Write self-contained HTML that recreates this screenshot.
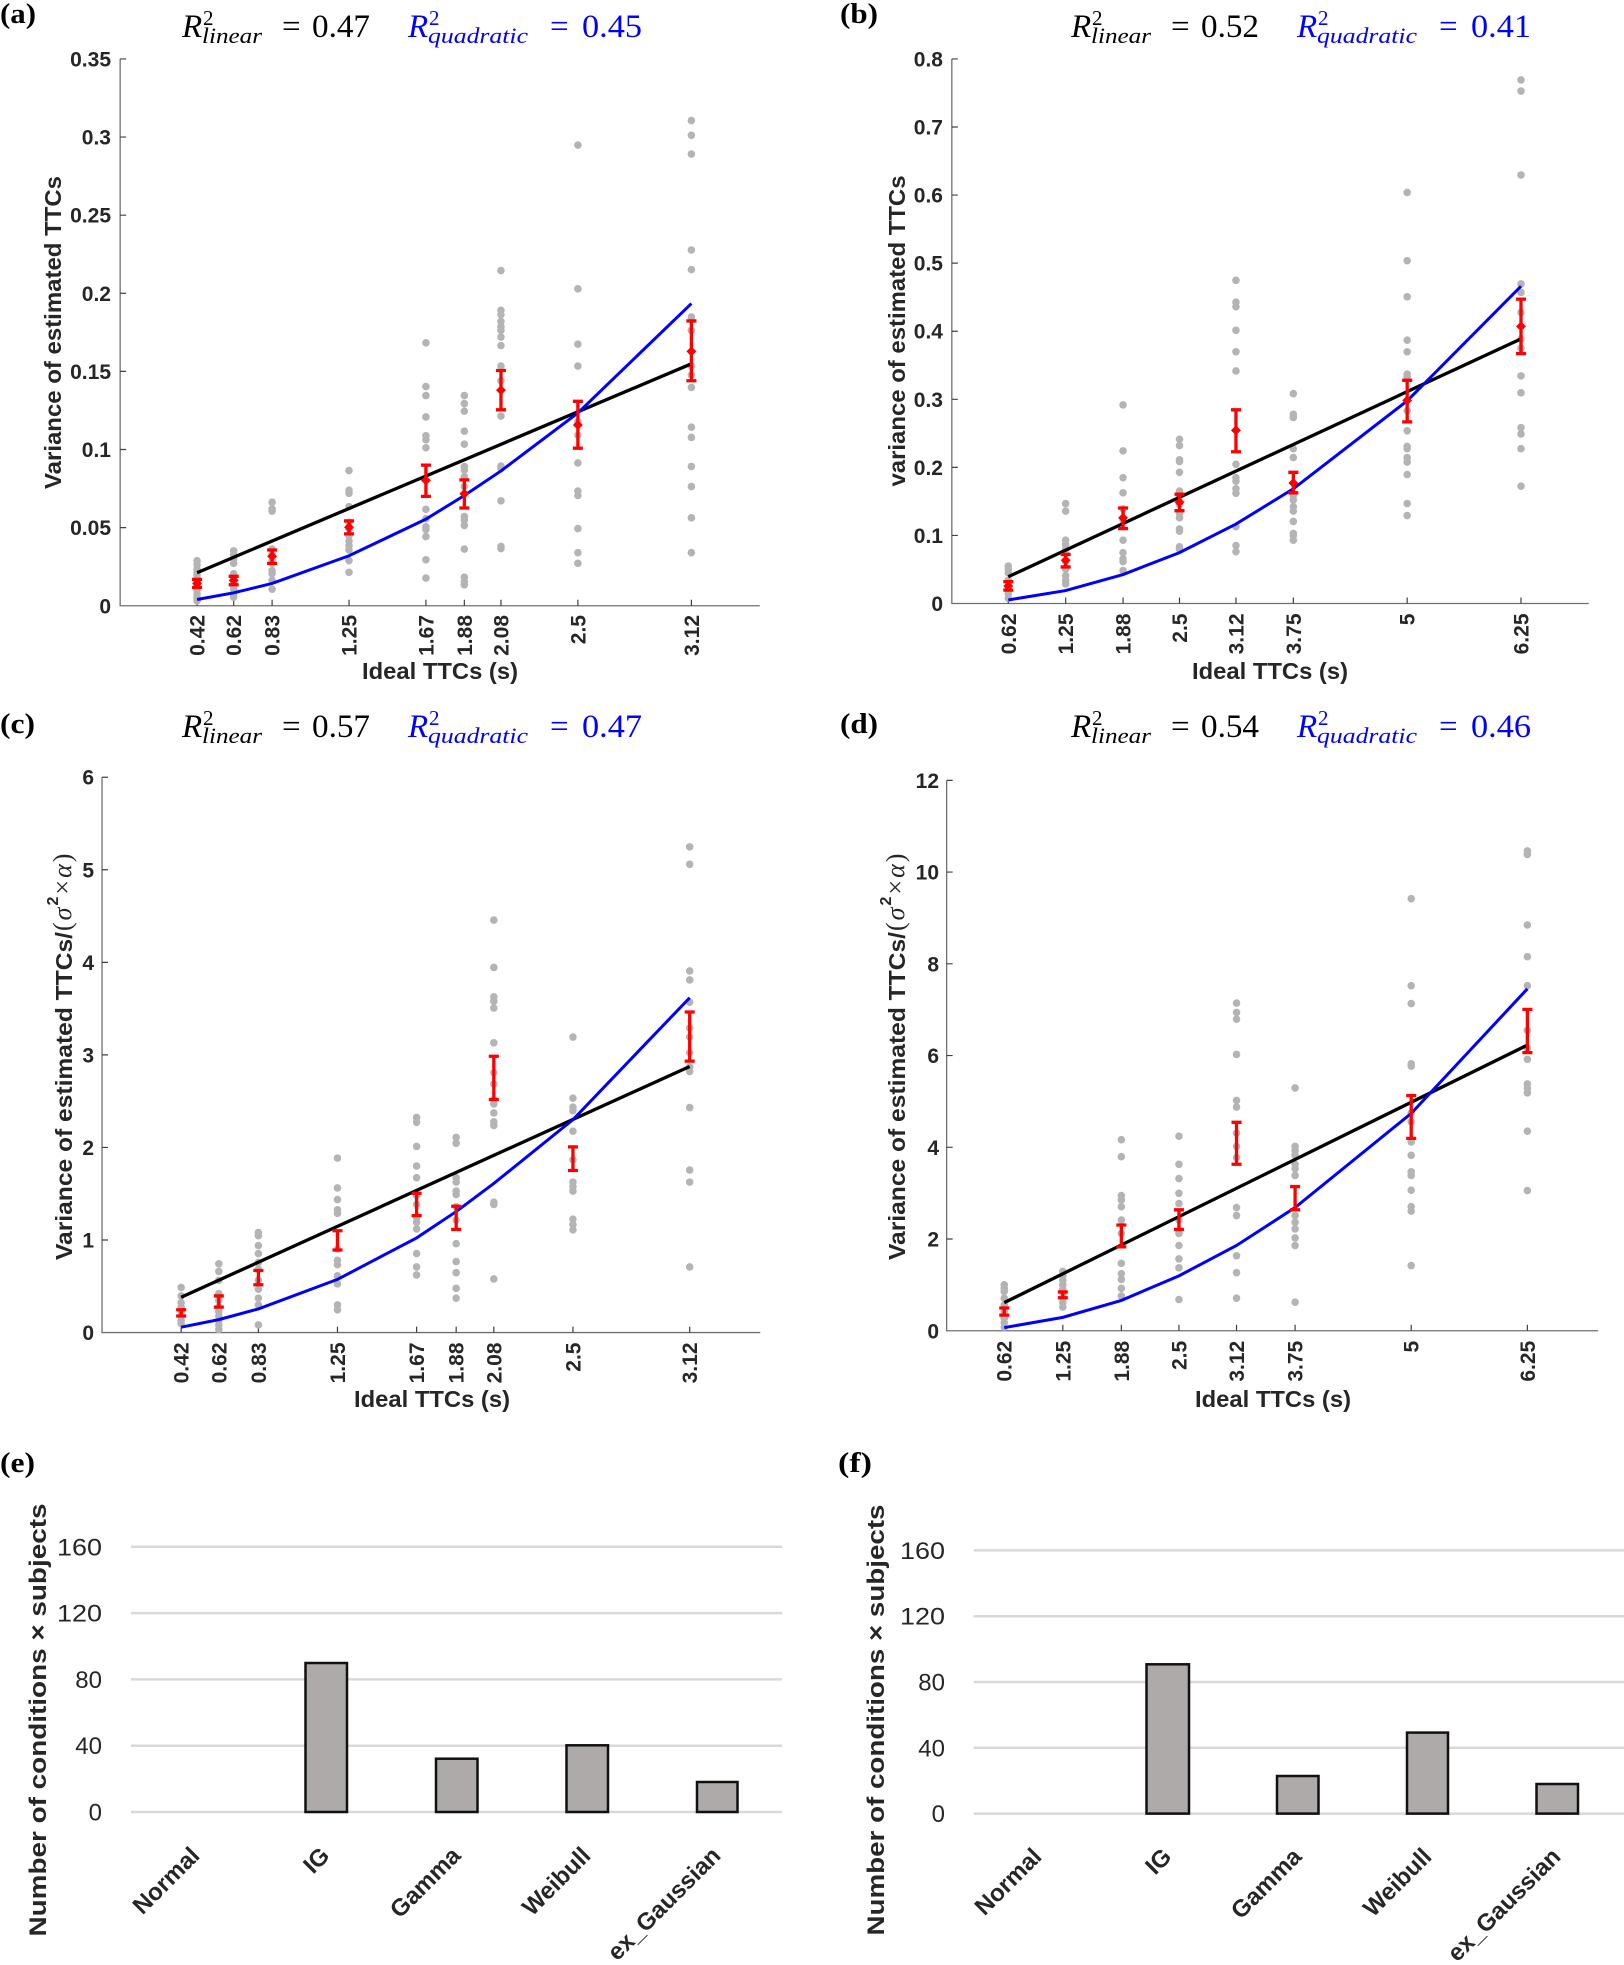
<!DOCTYPE html>
<html><head><meta charset="utf-8"><style>
html,body{margin:0;padding:0;background:#fff;}
svg{display:block;}
.tk{font-family:"Liberation Sans",Arial,sans-serif;font-weight:bold;font-size:21px;fill:#262626;}
.lb{font-family:"Liberation Sans",Arial,sans-serif;font-weight:bold;font-size:23px;fill:#262626;}
.sf{font-family:"Liberation Serif","Times New Roman",serif;}
.pl{font-family:"Liberation Serif","Times New Roman",serif;font-weight:bold;font-size:28px;fill:#000;}
.bt{font-family:"Liberation Sans",Arial,sans-serif;font-size:24px;fill:#262626;}
.bc{font-family:"Liberation Sans",Arial,sans-serif;font-weight:bold;font-size:24px;fill:#262626;}
.ax{fill:none;stroke:#707070;stroke-width:1.3;}
.tkl{fill:none;stroke:#404040;stroke-width:1.2;}
.bl{fill:none;stroke:#000;stroke-width:3.3;}
.bu{fill:none;stroke:#0000ff;stroke-width:3;}
.er{fill:none;stroke:#ff0000;stroke-width:3.3;}
</style></head><body>
<svg width="1624" height="1965" viewBox="0 0 1624 1965" xmlns="http://www.w3.org/2000/svg">
<rect width="1624" height="1965" fill="#fff"/>
<defs>
<ellipse id="d" cx="0" cy="0" rx="7.3" ry="8.5" fill="#b4b4b4"/>
<polygon id="dm" points="0,-11 9.6,0 0,11 -9.6,0" fill="#ff0000"/>
</defs>

<!-- ================= PANEL LABELS ================= -->
<text class="pl" x="0" y="23" textLength="36" lengthAdjust="spacingAndGlyphs">(a)</text>
<text class="pl" x="840" y="23" textLength="38" lengthAdjust="spacingAndGlyphs">(b)</text>
<text class="pl" x="0" y="733" textLength="35" lengthAdjust="spacingAndGlyphs">(c)</text>
<text class="pl" x="840" y="733" textLength="38" lengthAdjust="spacingAndGlyphs">(d)</text>
<text class="pl" x="0" y="1472" textLength="35" lengthAdjust="spacingAndGlyphs">(e)</text>
<text class="pl" x="838" y="1472" textLength="34" lengthAdjust="spacingAndGlyphs">(f)</text>

<!-- ================= TITLES ================= -->
<g class="sf">
 <g>
  <text x="182" y="37" font-size="33" font-style="italic">R</text>
  <text x="203" y="25" font-size="21">2</text>
  <text x="202" y="43" font-size="22" font-style="italic" textLength="60" lengthAdjust="spacingAndGlyphs">linear</text>
  <text x="282" y="37" font-size="33">=</text>
  <text x="312" y="37" font-size="33" textLength="58" lengthAdjust="spacingAndGlyphs">0.47</text>
  <g fill="#0000ff">
   <text x="408" y="37" font-size="33" font-style="italic">R</text>
   <text x="429" y="25" font-size="21">2</text>
   <text x="428" y="43" font-size="22" font-style="italic" textLength="100" lengthAdjust="spacingAndGlyphs">quadratic</text>
   <text x="550" y="37" font-size="33">=</text>
   <text x="582" y="37" font-size="33" textLength="60" lengthAdjust="spacingAndGlyphs">0.45</text>
  </g>
 </g>
 <g transform="translate(889 0)">
  <text x="182" y="37" font-size="33" font-style="italic">R</text>
  <text x="203" y="25" font-size="21">2</text>
  <text x="202" y="43" font-size="22" font-style="italic" textLength="60" lengthAdjust="spacingAndGlyphs">linear</text>
  <text x="282" y="37" font-size="33">=</text>
  <text x="312" y="37" font-size="33" textLength="58" lengthAdjust="spacingAndGlyphs">0.52</text>
  <g fill="#0000ff">
   <text x="408" y="37" font-size="33" font-style="italic">R</text>
   <text x="429" y="25" font-size="21">2</text>
   <text x="428" y="43" font-size="22" font-style="italic" textLength="100" lengthAdjust="spacingAndGlyphs">quadratic</text>
   <text x="550" y="37" font-size="33">=</text>
   <text x="582" y="37" font-size="33" textLength="60" lengthAdjust="spacingAndGlyphs">0.41</text>
  </g>
 </g>
 <g transform="translate(0 700)">
  <text x="182" y="37" font-size="33" font-style="italic">R</text>
  <text x="203" y="25" font-size="21">2</text>
  <text x="202" y="43" font-size="22" font-style="italic" textLength="60" lengthAdjust="spacingAndGlyphs">linear</text>
  <text x="282" y="37" font-size="33">=</text>
  <text x="312" y="37" font-size="33" textLength="58" lengthAdjust="spacingAndGlyphs">0.57</text>
  <g fill="#0000ff">
   <text x="408" y="37" font-size="33" font-style="italic">R</text>
   <text x="429" y="25" font-size="21">2</text>
   <text x="428" y="43" font-size="22" font-style="italic" textLength="100" lengthAdjust="spacingAndGlyphs">quadratic</text>
   <text x="550" y="37" font-size="33">=</text>
   <text x="582" y="37" font-size="33" textLength="60" lengthAdjust="spacingAndGlyphs">0.47</text>
  </g>
 </g>
 <g transform="translate(889 700)">
  <text x="182" y="37" font-size="33" font-style="italic">R</text>
  <text x="203" y="25" font-size="21">2</text>
  <text x="202" y="43" font-size="22" font-style="italic" textLength="60" lengthAdjust="spacingAndGlyphs">linear</text>
  <text x="282" y="37" font-size="33">=</text>
  <text x="312" y="37" font-size="33" textLength="58" lengthAdjust="spacingAndGlyphs">0.54</text>
  <g fill="#0000ff">
   <text x="408" y="37" font-size="33" font-style="italic">R</text>
   <text x="429" y="25" font-size="21">2</text>
   <text x="428" y="43" font-size="22" font-style="italic" textLength="100" lengthAdjust="spacingAndGlyphs">quadratic</text>
   <text x="550" y="37" font-size="33">=</text>
   <text x="582" y="37" font-size="33" textLength="60" lengthAdjust="spacingAndGlyphs">0.46</text>
  </g>
 </g>
</g>

<!-- ================= PANEL A ================= -->
<g transform="scale(0.5179 0.4464)">
 <path class="ax" vector-effect="non-scaling-stroke" d="M232,132V1357H1467"/>
 <path class="tkl" vector-effect="non-scaling-stroke" d="M232,132h11.6M232,307h11.6M232,482h11.6M232,657h11.6M232,832h11.6M232,1007h11.6M232,1182h11.6
 M380.5,1357v-13.4M451.2,1357v-13.4M525.4,1357v-13.4M673.9,1357v-13.4M822.4,1357v-13.4M896.6,1357v-13.4M967.3,1357v-13.4M1115.8,1357v-13.4M1335,1357v-13.4"/>
 <g transform="translate(380.5 0)"><use href="#d" y="1256"/><use href="#d" y="1265"/><use href="#d" y="1275"/><use href="#d" y="1283"/><use href="#d" y="1290"/><use href="#d" y="1300"/><use href="#d" y="1315"/><use href="#d" y="1322"/><use href="#d" y="1330"/><use href="#d" y="1338"/><use href="#d" y="1346"/></g>
 <g transform="translate(451.2 0)"><use href="#d" y="1234"/><use href="#d" y="1243"/><use href="#d" y="1252"/><use href="#d" y="1262"/><use href="#d" y="1285"/><use href="#d" y="1293"/><use href="#d" y="1303"/><use href="#d" y="1312"/><use href="#d" y="1320"/><use href="#d" y="1330"/><use href="#d" y="1338"/></g>
 <g transform="translate(525.4 0)"><use href="#d" y="1125"/><use href="#d" y="1140"/><use href="#d" y="1145"/><use href="#d" y="1230"/><use href="#d" y="1240"/><use href="#d" y="1255"/><use href="#d" y="1262"/><use href="#d" y="1278"/><use href="#d" y="1285"/><use href="#d" y="1300"/><use href="#d" y="1320"/></g>
 <g transform="translate(673.9 0)"><use href="#d" y="1054"/><use href="#d" y="1098"/><use href="#d" y="1105"/><use href="#d" y="1135"/><use href="#d" y="1170"/><use href="#d" y="1185"/><use href="#d" y="1200"/><use href="#d" y="1212"/><use href="#d" y="1222"/><use href="#d" y="1232"/><use href="#d" y="1256"/><use href="#d" y="1282"/></g>
 <g transform="translate(822.4 0)"><use href="#d" y="768"/><use href="#d" y="866"/><use href="#d" y="886"/><use href="#d" y="934"/><use href="#d" y="976"/><use href="#d" y="985"/><use href="#d" y="1003"/><use href="#d" y="1141"/><use href="#d" y="1162"/><use href="#d" y="1180"/><use href="#d" y="1186"/><use href="#d" y="1202"/><use href="#d" y="1254"/><use href="#d" y="1295"/></g>
 <g transform="translate(896.6 0)"><use href="#d" y="886"/><use href="#d" y="904"/><use href="#d" y="921"/><use href="#d" y="966"/><use href="#d" y="995"/><use href="#d" y="1045"/><use href="#d" y="1053"/><use href="#d" y="1068"/><use href="#d" y="1090"/><use href="#d" y="1157"/><use href="#d" y="1165"/><use href="#d" y="1177"/><use href="#d" y="1230"/><use href="#d" y="1293"/><use href="#d" y="1303"/><use href="#d" y="1310"/></g>
 <g transform="translate(967.3 0)"><use href="#d" y="606"/><use href="#d" y="695"/><use href="#d" y="705"/><use href="#d" y="720"/><use href="#d" y="732"/><use href="#d" y="740"/><use href="#d" y="755"/><use href="#d" y="774"/><use href="#d" y="820"/><use href="#d" y="853"/><use href="#d" y="932"/><use href="#d" y="1044"/><use href="#d" y="1050"/><use href="#d" y="1122"/><use href="#d" y="1224"/><use href="#d" y="1229"/></g>
 <g transform="translate(1115.8 0)"><use href="#d" y="325"/><use href="#d" y="647"/><use href="#d" y="771"/><use href="#d" y="820"/><use href="#d" y="945"/><use href="#d" y="975"/><use href="#d" y="1037"/><use href="#d" y="1100"/><use href="#d" y="1110"/><use href="#d" y="1184"/><use href="#d" y="1238"/><use href="#d" y="1262"/></g>
 <g transform="translate(1335 0)"><use href="#d" y="270"/><use href="#d" y="303"/><use href="#d" y="345"/><use href="#d" y="560"/><use href="#d" y="604"/><use href="#d" y="710"/><use href="#d" y="740"/><use href="#d" y="820"/><use href="#d" y="840"/><use href="#d" y="868"/><use href="#d" y="957"/><use href="#d" y="980"/><use href="#d" y="1045"/><use href="#d" y="1090"/><use href="#d" y="1160"/><use href="#d" y="1238"/></g>
 <path class="bl" vector-effect="non-scaling-stroke" d="M380.5,1283L1335,815"/>
 <polyline class="bu" vector-effect="non-scaling-stroke" points="380.5,1343 451.2,1328 525.4,1307 673.9,1245 822.4,1163 896.6,1110 967.3,1055 1115.8,925 1335,680"/>
 <path class="er" vector-effect="non-scaling-stroke" d="M380.5,1298V1316M370.8,1298h19.4M370.8,1316h19.4
 M451.2,1291V1310M441.5,1291h19.4M441.5,1310h19.4
 M525.4,1232V1262M515.7,1232h19.4M515.7,1262h19.4
 M673.9,1167V1196M664.2,1167h19.4M664.2,1196h19.4
 M822.4,1042V1112M812.7,1042h19.4M812.7,1112h19.4
 M896.6,1075V1138M886.9,1075h19.4M886.9,1138h19.4
 M967.3,830V918M957.6,830h19.4M957.6,918h19.4
 M1115.8,899V1004M1106.1,899h19.4M1106.1,1004h19.4
 M1335,719V853M1325.3,719h19.4M1325.3,853h19.4"/>
 <use href="#dm" x="380.5" y="1307"/><use href="#dm" x="451.2" y="1300"/><use href="#dm" x="525.4" y="1246"/><use href="#dm" x="673.9" y="1181"/><use href="#dm" x="822.4" y="1076"/><use href="#dm" x="896.6" y="1106"/><use href="#dm" x="967.3" y="874"/><use href="#dm" x="1115.8" y="952"/><use href="#dm" x="1335" y="787"/>
</g>
<g class="tk" text-anchor="end">
 <text x="111" y="66.4">0.35</text><text x="111" y="144.5">0.3</text><text x="111" y="222.7">0.25</text><text x="111" y="300.8">0.2</text><text x="111" y="378.9">0.15</text><text x="111" y="457">0.1</text><text x="111" y="535.1">0.05</text><text x="111" y="613.3">0</text>
 <text transform="translate(204.6 615) rotate(-90)">0.42</text>
 <text transform="translate(241.2 615) rotate(-90)">0.62</text>
 <text transform="translate(279.6 615) rotate(-90)">0.83</text>
 <text transform="translate(356.5 615) rotate(-90)">1.25</text>
 <text transform="translate(433.4 615) rotate(-90)">1.67</text>
 <text transform="translate(471.9 615) rotate(-90)">1.88</text>
 <text transform="translate(508.5 615) rotate(-90)">2.08</text>
 <text transform="translate(585.4 615) rotate(-90)">2.5</text>
 <text transform="translate(698.9 615) rotate(-90)">3.12</text>
</g>
<text class="lb" x="440" y="679" text-anchor="middle" textLength="156" lengthAdjust="spacingAndGlyphs">Ideal TTCs (s)</text>
<text class="lb" transform="translate(61 332.5) rotate(-90)" text-anchor="middle" textLength="313" lengthAdjust="spacingAndGlyphs">Variance of estimated TTCs</text>

<!-- ================= PANEL B ================= -->
<g transform="translate(812 0) scale(0.5179 0.4464)">
 <path class="ax" vector-effect="non-scaling-stroke" d="M270,132V1352H1500"/>
 <path class="tkl" vector-effect="non-scaling-stroke" d="M270,132h11.6M270,284.5h11.6M270,437h11.6M270,589.5h11.6M270,742h11.6M270,894.5h11.6M270,1047h11.6M270,1199.5h11.6
 M379,1352v-13.4M489.8,1352v-13.4M600.6,1352v-13.4M709.6,1352v-13.4M818.6,1352v-13.4M929.4,1352v-13.4M1149.2,1352v-13.4M1369,1352v-13.4"/>
 <g transform="translate(379 0)"><use href="#d" y="1268"/><use href="#d" y="1275"/><use href="#d" y="1283"/><use href="#d" y="1300"/><use href="#d" y="1310"/><use href="#d" y="1320"/><use href="#d" y="1330"/><use href="#d" y="1340"/></g>
 <g transform="translate(489.8 0)"><use href="#d" y="1128"/><use href="#d" y="1145"/><use href="#d" y="1210"/><use href="#d" y="1220"/><use href="#d" y="1230"/><use href="#d" y="1240"/><use href="#d" y="1258"/><use href="#d" y="1275"/><use href="#d" y="1290"/><use href="#d" y="1300"/><use href="#d" y="1308"/></g>
 <g transform="translate(600.6 0)"><use href="#d" y="907"/><use href="#d" y="1010"/><use href="#d" y="1070"/><use href="#d" y="1104"/><use href="#d" y="1140"/><use href="#d" y="1165"/><use href="#d" y="1210"/><use href="#d" y="1238"/><use href="#d" y="1252"/><use href="#d" y="1258"/><use href="#d" y="1278"/></g>
 <g transform="translate(709.6 0)"><use href="#d" y="984"/><use href="#d" y="998"/><use href="#d" y="1030"/><use href="#d" y="1034"/><use href="#d" y="1058"/><use href="#d" y="1100"/><use href="#d" y="1110"/><use href="#d" y="1130"/><use href="#d" y="1150"/><use href="#d" y="1160"/><use href="#d" y="1185"/><use href="#d" y="1190"/><use href="#d" y="1225"/><use href="#d" y="1230"/></g>
 <g transform="translate(818.6 0)"><use href="#d" y="628"/><use href="#d" y="677"/><use href="#d" y="687"/><use href="#d" y="740"/><use href="#d" y="788"/><use href="#d" y="831"/><use href="#d" y="1040"/><use href="#d" y="1070"/><use href="#d" y="1078"/><use href="#d" y="1095"/><use href="#d" y="1105"/><use href="#d" y="1180"/><use href="#d" y="1222"/><use href="#d" y="1236"/></g>
 <g transform="translate(929.4 0)"><use href="#d" y="882"/><use href="#d" y="928"/><use href="#d" y="935"/><use href="#d" y="1005"/><use href="#d" y="1025"/><use href="#d" y="1110"/><use href="#d" y="1120"/><use href="#d" y="1135"/><use href="#d" y="1145"/><use href="#d" y="1168"/><use href="#d" y="1195"/><use href="#d" y="1200"/><use href="#d" y="1210"/></g>
 <g transform="translate(1149.2 0)"><use href="#d" y="431"/><use href="#d" y="584"/><use href="#d" y="665"/><use href="#d" y="762"/><use href="#d" y="788"/><use href="#d" y="838"/><use href="#d" y="845"/><use href="#d" y="920"/><use href="#d" y="965"/><use href="#d" y="1000"/><use href="#d" y="1005"/><use href="#d" y="1025"/><use href="#d" y="1035"/><use href="#d" y="1063"/><use href="#d" y="1128"/><use href="#d" y="1155"/></g>
 <g transform="translate(1369 0)"><use href="#d" y="179"/><use href="#d" y="204"/><use href="#d" y="392"/><use href="#d" y="636"/><use href="#d" y="655"/><use href="#d" y="700"/><use href="#d" y="760"/><use href="#d" y="780"/><use href="#d" y="842"/><use href="#d" y="880"/><use href="#d" y="958"/><use href="#d" y="972"/><use href="#d" y="1005"/><use href="#d" y="1089"/></g>
 <path class="bl" vector-effect="non-scaling-stroke" d="M379,1292L1369,759"/>
 <polyline class="bu" vector-effect="non-scaling-stroke" points="379,1344 489.8,1323 600.6,1287 709.6,1238 818.6,1174 929.4,1095 1149.2,898 1369,641"/>
 <path class="er" vector-effect="non-scaling-stroke" d="M379,1303V1322M369.3,1303h19.4M369.3,1322h19.4
 M489.8,1242V1270M480.1,1242h19.4M480.1,1270h19.4
 M600.6,1138V1184M590.9,1138h19.4M590.9,1184h19.4
 M709.6,1107V1144M699.9,1107h19.4M699.9,1144h19.4
 M818.6,918V1012M808.9,918h19.4M808.9,1012h19.4
 M929.4,1058V1104M919.7,1058h19.4M919.7,1104h19.4
 M1149.2,852V945M1139.5,852h19.4M1139.5,945h19.4
 M1369,670V792M1359.3,670h19.4M1359.3,792h19.4"/>
 <use href="#dm" x="379" y="1313"/><use href="#dm" x="489.8" y="1255"/><use href="#dm" x="600.6" y="1160"/><use href="#dm" x="709.6" y="1125"/><use href="#dm" x="818.6" y="964"/><use href="#dm" x="929.4" y="1082"/><use href="#dm" x="1149.2" y="897"/><use href="#dm" x="1369" y="731"/>
</g>
<g class="tk" text-anchor="end">
 <text x="943" y="66.4">0.8</text><text x="943" y="134.5">0.7</text><text x="943" y="202.6">0.6</text><text x="943" y="270.7">0.5</text><text x="943" y="338.7">0.4</text><text x="943" y="406.8">0.3</text><text x="943" y="474.9">0.2</text><text x="943" y="543">0.1</text><text x="943" y="611">0</text>
 <text transform="translate(1015.8 613.5) rotate(-90)">0.62</text>
 <text transform="translate(1073.2 613.5) rotate(-90)">1.25</text>
 <text transform="translate(1130.5 613.5) rotate(-90)">1.88</text>
 <text transform="translate(1187 613.5) rotate(-90)">2.5</text>
 <text transform="translate(1243.5 613.5) rotate(-90)">3.12</text>
 <text transform="translate(1300.8 613.5) rotate(-90)">3.75</text>
 <text transform="translate(1414.7 613.5) rotate(-90)">5</text>
 <text transform="translate(1528.5 613.5) rotate(-90)">6.25</text>
</g>
<text class="lb" x="1270" y="679" text-anchor="middle" textLength="156" lengthAdjust="spacingAndGlyphs">Ideal TTCs (s)</text>
<text class="lb" transform="translate(905 331) rotate(-90)" text-anchor="middle" textLength="311" lengthAdjust="spacingAndGlyphs">variance of estimated TTCs</text>

<!-- ================= PANEL C ================= -->
<g transform="translate(0 700) scale(0.5179 0.4464)">
 <path class="ax" vector-effect="non-scaling-stroke" d="M197,173V1417H1468"/>
 <path class="tkl" vector-effect="non-scaling-stroke" d="M197,173h11.6M197,380.3h11.6M197,587.7h11.6M197,795h11.6M197,1002.3h11.6M197,1209.7h11.6
 M349.8,1417v-13.4M422.5,1417v-13.4M498.9,1417v-13.4M651.6,1417v-13.4M804.4,1417v-13.4M880.8,1417v-13.4M953.5,1417v-13.4M1106.3,1417v-13.4M1331.7,1417v-13.4"/>
 <g transform="translate(349.8 0)"><use href="#d" y="1316"/><use href="#d" y="1335"/><use href="#d" y="1350"/><use href="#d" y="1360"/><use href="#d" y="1370"/><use href="#d" y="1380"/><use href="#d" y="1390"/><use href="#d" y="1397"/></g>
 <g transform="translate(422.5 0)"><use href="#d" y="1263"/><use href="#d" y="1280"/><use href="#d" y="1300"/><use href="#d" y="1330"/><use href="#d" y="1345"/><use href="#d" y="1360"/><use href="#d" y="1370"/><use href="#d" y="1380"/><use href="#d" y="1390"/><use href="#d" y="1400"/><use href="#d" y="1410"/></g>
 <g transform="translate(498.9 0)"><use href="#d" y="1193"/><use href="#d" y="1200"/><use href="#d" y="1222"/><use href="#d" y="1240"/><use href="#d" y="1260"/><use href="#d" y="1275"/><use href="#d" y="1300"/><use href="#d" y="1320"/><use href="#d" y="1340"/><use href="#d" y="1355"/><use href="#d" y="1400"/></g>
 <g transform="translate(651.6 0)"><use href="#d" y="1026"/><use href="#d" y="1093"/><use href="#d" y="1119"/><use href="#d" y="1142"/><use href="#d" y="1150"/><use href="#d" y="1230"/><use href="#d" y="1255"/><use href="#d" y="1265"/><use href="#d" y="1290"/><use href="#d" y="1308"/><use href="#d" y="1355"/><use href="#d" y="1366"/></g>
 <g transform="translate(804.4 0)"><use href="#d" y="935"/><use href="#d" y="946"/><use href="#d" y="1000"/><use href="#d" y="1044"/><use href="#d" y="1070"/><use href="#d" y="1110"/><use href="#d" y="1130"/><use href="#d" y="1160"/><use href="#d" y="1170"/><use href="#d" y="1185"/><use href="#d" y="1240"/><use href="#d" y="1270"/><use href="#d" y="1288"/></g>
 <g transform="translate(880.8 0)"><use href="#d" y="980"/><use href="#d" y="993"/><use href="#d" y="1070"/><use href="#d" y="1080"/><use href="#d" y="1100"/><use href="#d" y="1108"/><use href="#d" y="1135"/><use href="#d" y="1165"/><use href="#d" y="1218"/><use href="#d" y="1258"/><use href="#d" y="1283"/><use href="#d" y="1318"/><use href="#d" y="1340"/></g>
 <g transform="translate(953.5 0)"><use href="#d" y="493"/><use href="#d" y="599"/><use href="#d" y="665"/><use href="#d" y="675"/><use href="#d" y="690"/><use href="#d" y="768"/><use href="#d" y="835"/><use href="#d" y="860"/><use href="#d" y="895"/><use href="#d" y="905"/><use href="#d" y="925"/><use href="#d" y="945"/><use href="#d" y="953"/><use href="#d" y="1125"/><use href="#d" y="1130"/><use href="#d" y="1297"/></g>
 <g transform="translate(1106.3 0)"><use href="#d" y="755"/><use href="#d" y="892"/><use href="#d" y="912"/><use href="#d" y="920"/><use href="#d" y="966"/><use href="#d" y="1030"/><use href="#d" y="1080"/><use href="#d" y="1090"/><use href="#d" y="1100"/><use href="#d" y="1163"/><use href="#d" y="1175"/><use href="#d" y="1187"/></g>
 <g transform="translate(1331.7 0)"><use href="#d" y="329"/><use href="#d" y="368"/><use href="#d" y="607"/><use href="#d" y="627"/><use href="#d" y="677"/><use href="#d" y="735"/><use href="#d" y="755"/><use href="#d" y="790"/><use href="#d" y="822"/><use href="#d" y="832"/><use href="#d" y="913"/><use href="#d" y="1053"/><use href="#d" y="1080"/><use href="#d" y="1270"/></g>
 <path class="bl" vector-effect="non-scaling-stroke" d="M349.8,1338L1331.7,821"/>
 <polyline class="bu" vector-effect="non-scaling-stroke" points="349.8,1405 422.5,1388 498.9,1364 651.6,1298 804.4,1205 880.8,1146 953.5,1083 1106.3,940 1331.7,667"/>
 <path class="er" vector-effect="non-scaling-stroke" d="M349.8,1366V1380M340.1,1366h19.4M340.1,1380h19.4
 M422.5,1335V1360M412.8,1335h19.4M412.8,1360h19.4
 M498.9,1278V1310M489.2,1278h19.4M489.2,1310h19.4
 M651.6,1189V1232M641.9,1189h19.4M641.9,1232h19.4
 M804.4,1105V1155M794.7,1105h19.4M794.7,1155h19.4
 M880.8,1134V1186M871.1,1134h19.4M871.1,1186h19.4
 M953.5,798V895M943.8,798h19.4M943.8,895h19.4
 M1106.3,1001V1054M1096.6,1001h19.4M1096.6,1054h19.4
 M1331.7,699V809M1322,699h19.4M1322,809h19.4"/>
</g>
<g class="tk" text-anchor="end">
 <text x="94" y="784.7">6</text><text x="94" y="877.3">5</text><text x="94" y="969.9">4</text><text x="94" y="1062.4">3</text><text x="94" y="1155">2</text><text x="94" y="1247.5">1</text><text x="94" y="1340">0</text>
 <text transform="translate(188.7 1342.5) rotate(-90)">0.42</text>
 <text transform="translate(226.3 1342.5) rotate(-90)">0.62</text>
 <text transform="translate(265.9 1342.5) rotate(-90)">0.83</text>
 <text transform="translate(345 1342.5) rotate(-90)">1.25</text>
 <text transform="translate(424.1 1342.5) rotate(-90)">1.67</text>
 <text transform="translate(463.7 1342.5) rotate(-90)">1.88</text>
 <text transform="translate(501.3 1342.5) rotate(-90)">2.08</text>
 <text transform="translate(580.5 1342.5) rotate(-90)">2.5</text>
 <text transform="translate(697.2 1342.5) rotate(-90)">3.12</text>
</g>
<text class="lb" x="432" y="1407" text-anchor="middle" textLength="156" lengthAdjust="spacingAndGlyphs">Ideal TTCs (s)</text>
<text class="lb" transform="translate(72 1260) rotate(-90)" textLength="328" lengthAdjust="spacingAndGlyphs">Variance of estimated TTCs/</text>
<text transform="translate(71 931) rotate(-90)" class="sf" font-size="26" fill="#262626" letter-spacing="2"><tspan>(</tspan><tspan font-style="italic">σ</tspan><tspan font-family="Liberation Sans, Arial, sans-serif" font-weight="bold" font-size="16" dy="-13">2</tspan><tspan dy="13">×</tspan><tspan font-style="italic">α</tspan><tspan>)</tspan></text>

<!-- ================= PANEL D ================= -->
<g transform="translate(812 700) scale(0.5179 0.4464)">
 <path class="ax" vector-effect="non-scaling-stroke" d="M260,180V1413H1518"/>
 <path class="tkl" vector-effect="non-scaling-stroke" d="M260,180h11.6M260,385.5h11.6M260,591h11.6M260,796.5h11.6M260,1002h11.6M260,1207.5h11.6
 M371.2,1413v-13.4M484.3,1413v-13.4M597.3,1413v-13.4M708.5,1413v-13.4M819.7,1413v-13.4M932.8,1413v-13.4M1157,1413v-13.4M1381.3,1413v-13.4"/>
 <g transform="translate(371.2 0)"><use href="#d" y="1310"/><use href="#d" y="1318"/><use href="#d" y="1325"/><use href="#d" y="1340"/><use href="#d" y="1355"/><use href="#d" y="1370"/><use href="#d" y="1385"/><use href="#d" y="1395"/><use href="#d" y="1405"/></g>
 <g transform="translate(484.3 0)"><use href="#d" y="1280"/><use href="#d" y="1290"/><use href="#d" y="1300"/><use href="#d" y="1310"/><use href="#d" y="1320"/><use href="#d" y="1330"/><use href="#d" y="1340"/><use href="#d" y="1350"/><use href="#d" y="1360"/></g>
 <g transform="translate(597.3 0)"><use href="#d" y="985"/><use href="#d" y="1023"/><use href="#d" y="1110"/><use href="#d" y="1120"/><use href="#d" y="1135"/><use href="#d" y="1165"/><use href="#d" y="1195"/><use href="#d" y="1262"/><use href="#d" y="1285"/><use href="#d" y="1298"/><use href="#d" y="1318"/><use href="#d" y="1335"/></g>
 <g transform="translate(708.5 0)"><use href="#d" y="977"/><use href="#d" y="1040"/><use href="#d" y="1072"/><use href="#d" y="1105"/><use href="#d" y="1128"/><use href="#d" y="1165"/><use href="#d" y="1195"/><use href="#d" y="1222"/><use href="#d" y="1252"/><use href="#d" y="1272"/><use href="#d" y="1343"/></g>
 <g transform="translate(819.7 0)"><use href="#d" y="679"/><use href="#d" y="700"/><use href="#d" y="715"/><use href="#d" y="794"/><use href="#d" y="897"/><use href="#d" y="912"/><use href="#d" y="970"/><use href="#d" y="1000"/><use href="#d" y="1025"/><use href="#d" y="1137"/><use href="#d" y="1155"/><use href="#d" y="1245"/><use href="#d" y="1283"/><use href="#d" y="1340"/></g>
 <g transform="translate(932.8 0)"><use href="#d" y="869"/><use href="#d" y="1000"/><use href="#d" y="1010"/><use href="#d" y="1020"/><use href="#d" y="1040"/><use href="#d" y="1050"/><use href="#d" y="1065"/><use href="#d" y="1155"/><use href="#d" y="1170"/><use href="#d" y="1185"/><use href="#d" y="1205"/><use href="#d" y="1222"/><use href="#d" y="1349"/></g>
 <g transform="translate(1157 0)"><use href="#d" y="445"/><use href="#d" y="640"/><use href="#d" y="680"/><use href="#d" y="815"/><use href="#d" y="820"/><use href="#d" y="925"/><use href="#d" y="945"/><use href="#d" y="990"/><use href="#d" y="1020"/><use href="#d" y="1057"/><use href="#d" y="1065"/><use href="#d" y="1098"/><use href="#d" y="1135"/><use href="#d" y="1145"/><use href="#d" y="1267"/></g>
 <g transform="translate(1381.3 0)"><use href="#d" y="338"/><use href="#d" y="346"/><use href="#d" y="504"/><use href="#d" y="575"/><use href="#d" y="640"/><use href="#d" y="740"/><use href="#d" y="780"/><use href="#d" y="805"/><use href="#d" y="860"/><use href="#d" y="870"/><use href="#d" y="880"/><use href="#d" y="966"/><use href="#d" y="1099"/></g>
 <path class="bl" vector-effect="non-scaling-stroke" d="M371.2,1350L1381.3,773"/>
 <polyline class="bu" vector-effect="non-scaling-stroke" points="371.2,1406 484.3,1383 597.3,1345 708.5,1290 819.7,1222 932.8,1137 1157,926 1381.3,647"/>
 <path class="er" vector-effect="non-scaling-stroke" d="M371.2,1362V1378M361.5,1362h19.4M361.5,1378h19.4
 M484.3,1326V1339M474.6,1326h19.4M474.6,1339h19.4
 M597.3,1176V1225M587.6,1176h19.4M587.6,1225h19.4
 M708.5,1142V1186M698.8,1142h19.4M698.8,1186h19.4
 M819.7,946V1040M810,946h19.4M810,1040h19.4
 M932.8,1090V1142M923.1,1090h19.4M923.1,1142h19.4
 M1157,886V982M1147.3,886h19.4M1147.3,982h19.4
 M1381.3,693V790M1371.6,693h19.4M1371.6,790h19.4"/>
</g>
<g class="tk" text-anchor="end">
 <text x="939" y="787.9">12</text><text x="939" y="879.6">10</text><text x="939" y="971.3">8</text><text x="939" y="1063.1">6</text><text x="939" y="1154.8">4</text><text x="939" y="1246.5">2</text><text x="939" y="1338.3">0</text>
 <text transform="translate(1011.7 1340.8) rotate(-90)">0.62</text>
 <text transform="translate(1070.3 1340.8) rotate(-90)">1.25</text>
 <text transform="translate(1128.8 1340.8) rotate(-90)">1.88</text>
 <text transform="translate(1186.4 1340.8) rotate(-90)">2.5</text>
 <text transform="translate(1244 1340.8) rotate(-90)">3.12</text>
 <text transform="translate(1302.6 1340.8) rotate(-90)">3.75</text>
 <text transform="translate(1418.7 1340.8) rotate(-90)">5</text>
 <text transform="translate(1534.9 1340.8) rotate(-90)">6.25</text>
</g>
<text class="lb" x="1273" y="1407" text-anchor="middle" textLength="156" lengthAdjust="spacingAndGlyphs">Ideal TTCs (s)</text>
<text class="lb" transform="translate(905 1260) rotate(-90)" textLength="328" lengthAdjust="spacingAndGlyphs">Variance of estimated TTCs/</text>
<text transform="translate(904 931) rotate(-90)" class="sf" font-size="26" fill="#262626" letter-spacing="2"><tspan>(</tspan><tspan font-style="italic">σ</tspan><tspan font-family="Liberation Sans, Arial, sans-serif" font-weight="bold" font-size="16" dy="-13">2</tspan><tspan dy="13">×</tspan><tspan font-style="italic">α</tspan><tspan>)</tspan></text>

<!-- ================= PANEL E ================= -->
<g stroke="#d9d9d9" stroke-width="2.5">
 <line x1="131" y1="1546.8" x2="782" y2="1546.8"/>
 <line x1="131" y1="1613.1" x2="782" y2="1613.1"/>
 <line x1="131" y1="1679.4" x2="782" y2="1679.4"/>
 <line x1="131" y1="1745.7" x2="782" y2="1745.7"/>
 <line x1="131" y1="1812" x2="782" y2="1812"/>
</g>
<g fill="#aeaaa9" stroke="#111" stroke-width="2.5">
 <rect x="305.5" y="1663" width="41.5" height="149"/>
 <rect x="436" y="1758.7" width="41.5" height="53.3"/>
 <rect x="566.5" y="1745.3" width="41.5" height="66.7"/>
 <rect x="697" y="1782" width="40.5" height="30"/>
</g>
<g class="bt" text-anchor="end">
 <text x="102" y="1555.3" textLength="45" lengthAdjust="spacingAndGlyphs">160</text><text x="102" y="1621.6" textLength="45" lengthAdjust="spacingAndGlyphs">120</text><text x="102" y="1687.9">80</text><text x="102" y="1754.2">40</text><text x="102" y="1820.5">0</text>
</g>
<g class="bc" text-anchor="end">
 <text transform="translate(201 1857) rotate(-45)">Normal</text>
 <text transform="translate(331 1857) rotate(-45)">IG</text>
 <text transform="translate(462 1857) rotate(-45)">Gamma</text>
 <text transform="translate(592 1857) rotate(-45)">Weibull</text>
 <text transform="translate(722 1857) rotate(-45)">ex_Gaussian</text>
</g>
<text class="bc" transform="translate(46 1720) rotate(-90)" text-anchor="middle" font-size="26" textLength="433" lengthAdjust="spacingAndGlyphs">Number of conditions × subjects</text>

<!-- ================= PANEL F ================= -->
<g stroke="#d9d9d9" stroke-width="2.5">
 <line x1="973.6" y1="1550.4" x2="1624" y2="1550.4"/>
 <line x1="973.6" y1="1616.2" x2="1624" y2="1616.2"/>
 <line x1="973.6" y1="1682" x2="1624" y2="1682"/>
 <line x1="973.6" y1="1747.8" x2="1624" y2="1747.8"/>
 <line x1="973.6" y1="1813.6" x2="1624" y2="1813.6"/>
</g>
<g fill="#aeaaa9" stroke="#111" stroke-width="2.5">
 <rect x="1146.5" y="1664.3" width="42.5" height="149.3"/>
 <rect x="1277" y="1776" width="41.5" height="37.6"/>
 <rect x="1407" y="1732.6" width="41" height="81"/>
 <rect x="1536.5" y="1784" width="41.5" height="29.6"/>
</g>
<g class="bt" text-anchor="end">
 <text x="945" y="1558.9" textLength="45" lengthAdjust="spacingAndGlyphs">160</text><text x="945" y="1624.7" textLength="45" lengthAdjust="spacingAndGlyphs">120</text><text x="945" y="1690.5">80</text><text x="945" y="1756.3">40</text><text x="945" y="1822.1">0</text>
</g>
<g class="bc" text-anchor="end">
 <text transform="translate(1043 1858) rotate(-45)">Normal</text>
 <text transform="translate(1173 1858) rotate(-45)">IG</text>
 <text transform="translate(1303 1858) rotate(-45)">Gamma</text>
 <text transform="translate(1433 1858) rotate(-45)">Weibull</text>
 <text transform="translate(1562 1858) rotate(-45)">ex_Gaussian</text>
</g>
<text class="bc" transform="translate(884 1720) rotate(-90)" text-anchor="middle" font-size="26" textLength="431" lengthAdjust="spacingAndGlyphs">Number of conditions × subjects</text>

</svg>
</body></html>
